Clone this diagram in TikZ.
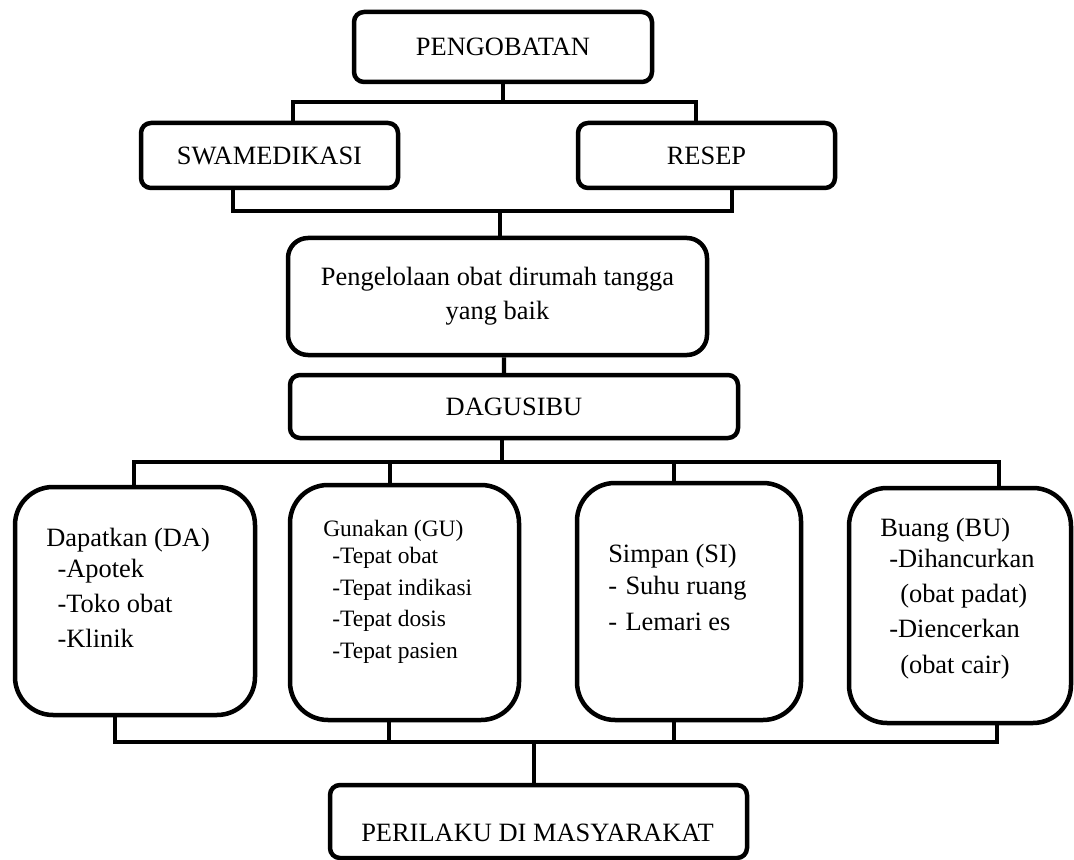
\documentclass[tikz,border=0pt]{standalone}
\usepackage{fontspec}
\setmainfont{Liberation Serif}
\newcommand{\pxu}{0.025cm}
\begin{document}
\begin{tikzpicture}[x=0.025cm,y=-0.025cm,
    kotak/.style={draw, line width=3.2pt, rounded corners=0.25cm, inner sep=0pt, font=\fontsize{18.8}{24}\selectfont},
    kotakbesar/.style={kotak, rounded corners=0.95cm},
    garis/.style={line width=2.9pt},
    teks/.style={anchor=north west, inner sep=0pt, align=left, font=\fontsize{18.8}{25}\selectfont}]
    \useasboundingbox (0,0) rectangle (1074,860);

\node[kotak, minimum width=298*\pxu, minimum height=70*\pxu] (obat) at (503,47) {PENGOBATAN};
\node[kotak, minimum width=257*\pxu, minimum height=65*\pxu] (swa) at (269.5,155.5) {SWAMEDIKASI};
\node[kotak, minimum width=257*\pxu, minimum height=65*\pxu] (resep) at (706.5,155.5) {RESEP};
\node[kotak, rounded corners=0.5cm, align=center, minimum width=419*\pxu, minimum height=117*\pxu] (kelola) at (497.5,296.5) {Pengelolaan obat dirumah tangga\\yang baik};
\node[kotak, minimum width=448*\pxu, minimum height=63*\pxu] (dagu) at (514,406.5) {DAGUSIBU};

\node[kotakbesar, minimum width=240*\pxu, minimum height=228*\pxu] (da) at (135,601) {};
\node[kotakbesar, minimum width=229*\pxu, minimum height=235*\pxu] (gu) at (404.5,602.5) {};
\node[kotakbesar, minimum width=224*\pxu, minimum height=237*\pxu] (si) at (689,601.5) {};
\node[kotakbesar, minimum width=222*\pxu, minimum height=235*\pxu] (bu) at (960,605.5) {};

\node[teks] (datxt) at (46,528) {Dapatkan (DA)\\[-3pt]\hspace*{8pt}-Apotek\\\hspace*{8pt}-Toko obat\\\hspace*{8pt}-Klinik};
\node[teks, font=\fontsize{16.7}{22.4}\selectfont] (gutxt) at (323,520) {Gunakan (GU)\\[-3pt]\hspace*{6.4pt}-Tepat obat\\\hspace*{6.4pt}-Tepat indikasi\\\hspace*{6.4pt}-Tepat dosis\\\hspace*{6.4pt}-Tepat pasien};
\node[teks] (sitxt) at (608,544) {Simpan (SI)\\[-2pt]-\hspace{6pt}Suhu ruang\\-\hspace{6pt}Lemari es};
\node[teks] (butxt) at (880,518) {Buang (BU)\\[-3pt]\hspace*{6.4pt}-Dihancurkan\\\hspace*{14.2pt}(obat padat)\\\hspace*{6.4pt}-Diencerkan\\\hspace*{14.2pt}(obat cair)};

\node[kotak, minimum width=417*\pxu, minimum height=73*\pxu] (peri) at (538.5,821.5) {};
\node[inner sep=0pt, font=\fontsize{18.8}{24}\selectfont] (peritxt) at (537.5,833) {PERILAKU DI MASYARAKAT};

%    atas
\coordinate (t1) at (501,102);
\draw[garis] (obat.south) -- (obat.south |- t1);
\draw[garis] ([xshift=23.5*\pxu]swa.north) |- (t1) -| ([xshift=-10.5*\pxu]resep.north);
\coordinate (t2) at (500,211);
\draw[garis] ([xshift=-36.5*\pxu]swa.south) |- (t2) -| ([xshift=25.5*\pxu]resep.south);
\draw[garis] (t2) -- (t2 |- kelola.north);
\draw[garis] ([xshift=6.5*\pxu]kelola.south) -- ([xshift=-10*\pxu]dagu.north);

%    tengah
\coordinate (t4) at (502,462);
\draw[garis] ([xshift=-12*\pxu]dagu.south) -- (t4);
\draw[garis] ([xshift=-1*\pxu]da.north) |- (t4) -| ([xshift=39*\pxu]bu.north);
\draw[garis] ([xshift=-14.5*\pxu]gu.north) |- (t4);
\draw[garis] ([xshift=-15*\pxu]si.north) |- (t4);

%    bawah
\coordinate (t5) at (534,742);
\draw[garis] ([xshift=-20*\pxu]da.south) |- (t5) -| ([xshift=37*\pxu]bu.south);
\draw[garis] ([xshift=-15.5*\pxu]gu.south) |- (t5);
\draw[garis] ([xshift=-15*\pxu]si.south) |- (t5);
\draw[garis] (t5) -- (t5 |- peri.north);

\end{tikzpicture}
\end{document}
